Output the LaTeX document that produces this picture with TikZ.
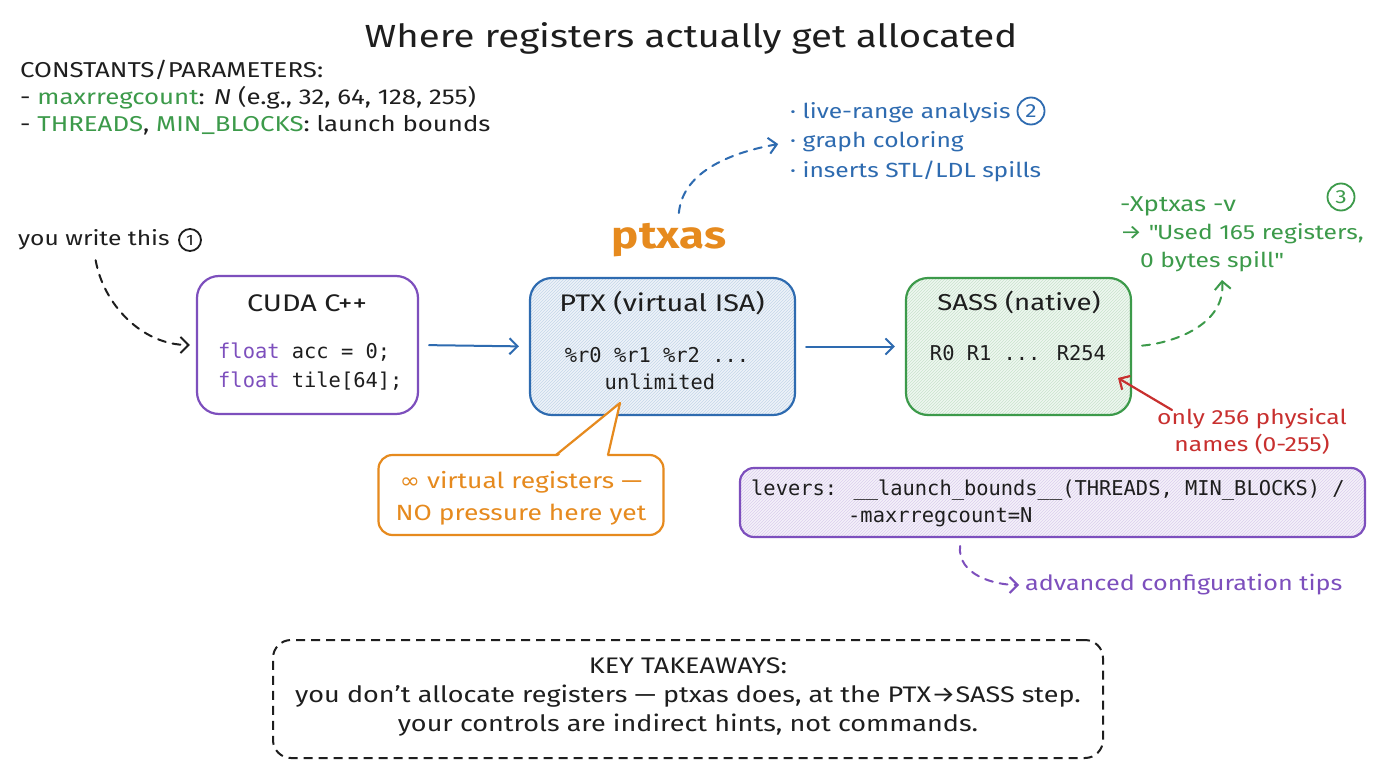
\documentclass[tikz,border=0pt]{standalone}
\usepackage{fontspec}
\setmainfont{Fira Sans}[FakeStretch=1.2]
\newfontfamily\monof{DejaVu Sans Mono}
\newfontfamily\symf{DejaVu Sans}[FakeStretch=1.1]
\usetikzlibrary{arrows.meta,patterns,calc}
\definecolor{cpurple}{HTML}{7D4FBD}
\definecolor{cblue}{HTML}{2E6BB0}
\definecolor{cgreen}{HTML}{3C9A4A}
\definecolor{corange}{HTML}{E68A1E}
\definecolor{cred}{HTML}{C8302F}
\definecolor{cink}{HTML}{1E1E1E}
\tikzset{
  txt/.style={inner sep=0pt, text=cink, font=\fontsize{20.5}{27}\selectfont},
  mono/.style={inner sep=0pt, text=cink, font=\monof\fontsize{20.4}{27}\selectfont},
  stage/.style={draw=#1, line width=2.2pt, rounded corners=22pt,
     preaction={fill=#1!8}, pattern=north east lines, pattern color=#1!28},
  plainstage/.style={draw=#1, line width=2.2pt, rounded corners=22pt, fill=white},
  arr/.style={-{Straight Barb[length=8pt,width=16pt]}, line width=2pt, line cap=round},
  darr/.style={arr, dash pattern=on 8pt off 7pt},
  num/.style={circle, draw=#1, line width=1.8pt, text=#1, inner sep=0pt, minimum size=27pt,
     font=\fontsize{19}{19}\selectfont},
}
\begin{document}
\begin{tikzpicture}[x=1pt,y=-1pt]
\useasboundingbox (0,0) rectangle (1376,768);
\fill[white] (0,0) rectangle (1376,768);

% title
\node[txt, font=\fontsize{32}{36}\selectfont] (title) at (691,38) {Where registers actually get allocated};

% constants
\node[txt, anchor=north west, align=left, font=\fontsize{21.5}{27}\selectfont] (consts) at (20,60)
 {CONSTANTS/PARAMETERS:\\
  - \textcolor{cgreen}{maxrregcount}: \textit{N} (e.g., 32, 64, 128, 255)\\
  - \textcolor{cgreen}{THREADS}, \textcolor{cgreen}{MIN\_BLOCKS}: launch bounds};

% you write this
\node[txt, anchor=west, font=\fontsize{20.5}{27}\selectfont] (yw) at (18,240) {you write this};
\node[num=cink, minimum size=22pt, font=\fontsize{15}{15}\selectfont] (n1) at (190,240) {1};

% stage boxes
\node[plainstage=cpurple, minimum width=221pt, minimum height=138pt] (cuda) at (307.5,345) {};
\node[stage=cblue, minimum width=265pt, minimum height=137pt] (ptx) at (662.5,346.5) {};
\node[stage=cgreen, minimum width=225pt, minimum height=137pt] (sass) at (1018.5,346.5) {};

\node[txt, font=\fontsize{24}{27}\selectfont] (cudat) at (307,303) {CUDA C++};
\node[mono, anchor=west] (c1) at (218,352) {\textcolor{cpurple}{float} acc = 0;};
\node[mono, anchor=west] (c2) at (218,381) {\textcolor{cpurple}{float} tile[64];};

\node[txt, font=\fontsize{24}{27}\selectfont] (ptxt) at (662,303) {PTX (virtual ISA)};
\node[mono] (p1) at (657,355) {\%r0 \%r1 \%r2 ...};
\node[mono] (p2) at (660,382) {unlimited};

\node[txt, font=\fontsize{23}{27}\selectfont] (sasst) at (1019,302) {SASS (native)};
\node[mono] (s1) at (1018,353) {R0 R1 ... R254};

% ptxas
\node[txt, text=corange, font=\bfseries\fontsize{38}{40}\selectfont] (ptxas) at (669,240) {ptxas};

% main arrows
\draw[arr, cblue, shorten <=10pt, shorten >=10pt] (cuda.east) -- (ptx.west);
\draw[arr, cblue, shorten <=10pt, shorten >=10pt] (ptx.east) -- (sass.west);

% blue list
\node[txt, text=cblue, anchor=west] (l1) at (790,113) {· live-range analysis};
\node[txt, text=cblue, anchor=west] (l2) at (790,142) {· graph coloring};
\node[txt, text=cblue, anchor=west] (l3) at (790,171) {· inserts STL/LDL spills};
\node[num=cblue] (n2) at (1031,111) {2};
\draw[darr, cblue, shorten <=10pt, shorten >=12pt] (ptxas.north) ++(9,0) to[out=85,in=190] (l2.west);

% green note
\node[txt, text=cgreen, anchor=west, font=\fontsize{21.5}{27}\selectfont] (g1) at (1120,206) {-Xptxas -v};
\node[txt, text=cgreen, anchor=west] (g2) at (1120,234) {→ \textquotedbl Used 165 registers,};
\node[txt, text=cgreen, anchor=west] (g3) at (1140,262) {0 bytes spill\textquotedbl};
\node[num=cgreen] (n3) at (1341,197) {3};
\coordinate (gtip) at (1222,280);
\draw[darr, cgreen, shorten <=10pt] (sass.east) to[out=5,in=-85] (gtip);

% red note
\node[txt, text=cred, align=center] (red) at (1252,431) {only 256 physical\\names (0-255)};
\coordinate (rs) at (1172,410);
\coordinate (rtip) at (1118,378);
\draw[arr, cred, line width=2.2pt] (rs) -- (rtip);

% callout
\node[draw=corange, line width=2.2pt, rounded corners=14pt, fill=white,
      minimum width=285pt, minimum height=80pt] (callout) at (521,495) {};
\coordinate (ctip) at (620,403);
\fill[white] (557,457) -- (ctip) -- (607,457) -- cycle;
\draw[corange, line width=2.2pt, line join=round] (556,455) -- (ctip) -- (608,455);
\node[txt, text=corange, align=center, font=\fontsize{22}{32}\selectfont] (ct) at (521,498) {{\symf ∞} virtual registers —\\NO pressure here yet};

% levers
\node[stage=cpurple, rounded corners=14pt, minimum width=625pt, minimum height=69pt] (levers) at (1052.5,502.5) {};
\node[mono, anchor=west] (lv1) at (751,490) {levers: \_\_launch\_bounds\_\_(THREADS, MIN\_BLOCKS) /};
\node[mono, anchor=west] (lv2) at (848,517) {-maxrregcount=N};

% advanced
\node[txt, text=cpurple, anchor=west, font=\fontsize{21}{27}\selectfont] (adv) at (1025,585) {advanced configuration tips};
\coordinate (ps) at (960,546);
\draw[darr, cpurple, shorten >=6pt] (ps) to[out=-95,in=180] (adv.west);

% you write arrow
\draw[darr, cink, shorten <=10pt, shorten >=6pt] (yw.south) to[out=-80,in=180] (cuda.west);

% takeaways
\node[draw=cink, line width=2pt, dash pattern=on 9pt off 6pt, rounded corners=18pt,
      minimum width=830pt, minimum height=118pt] (key) at (688,699) {};
\node[txt, align=center, font=\fontsize{22.5}{29}\selectfont] (keyt) at (688,697)
 {KEY TAKEAWAYS:\\you don't allocate registers — ptxas does, at the PTX→SASS step.\\your controls are indirect hints, not commands.};
\end{tikzpicture}
\end{document}
